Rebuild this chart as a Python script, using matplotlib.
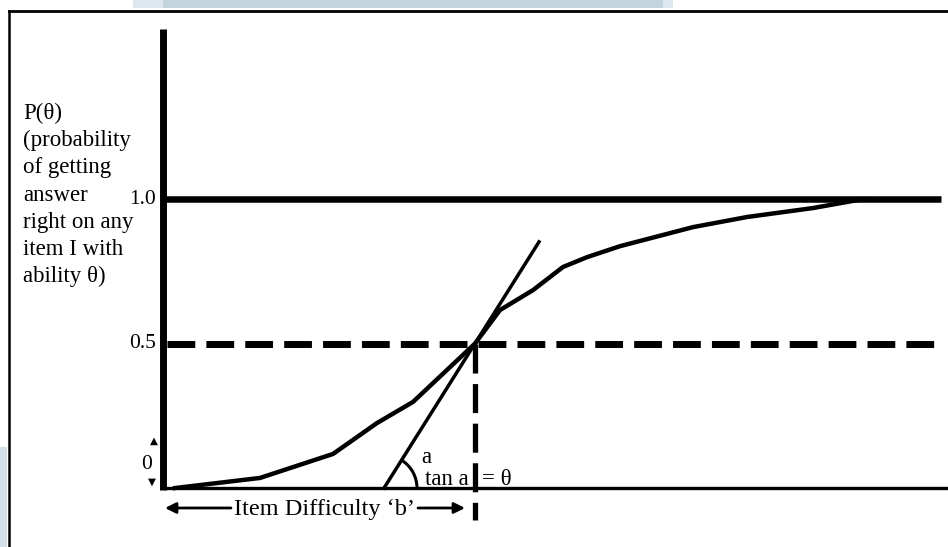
import matplotlib
matplotlib.use("Agg")
import matplotlib.pyplot as plt
import matplotlib.transforms as mtransforms
from matplotlib.lines import Line2D
from matplotlib.patches import Arc, Rectangle
import numpy as np

# item characteristic curve (theta in ability units, b at 0)
theta = [-3.00, -2.15, -1.42, -0.98, -0.62, 0.00, 0.25, 0.58, 0.88, 1.12, 1.45, 2.18, 2.72, 3.38, 3.88]
prob = [0.000, 0.035, 0.118, 0.225, 0.298, 0.500, 0.616, 0.685, 0.765, 0.799, 0.837, 0.903, 0.938, 0.969, 1.000]

# tangent at the inflection point (slope = discrimination a)
tangent_theta = [-0.91, 0.64]
tangent_p = [0.0, 0.852]

b_difficulty = 0.0
levels = [0.5, 1.0]
level_labels = ["0.5", "1.0"]
ylabel_lines = ["P(θ)", "(probability", "of getting", "answer",
                "right on any", "item I with", "ability θ)"]

axis_left = -3.12
axis_right = 4.66

serif = "Liberation Serif"

fig = plt.figure(figsize=(9.48, 5.47), dpi=100)
ax = fig.add_axes([0, 0, 1, 1])
ax.set_xlim(-4.75, 4.73)
ax.set_ylim(-0.204, 1.689)
ax.axis("off")

# pixel transform (origin top-left) for the page decoration
px = mtransforms.Affine2D().scale(0.01, -0.01).translate(0, 5.47) + fig.dpi_scale_trans

# light banner bits from the page behind the figure
fig.add_artist(Rectangle((133, 0), 30, 8, transform=px, color="#dde8ee", lw=0))
fig.add_artist(Rectangle((163, 0), 500, 8, transform=px, color="#c4d4dc", lw=0))
fig.add_artist(Rectangle((663, 0), 10, 8, transform=px, color="#dde8ee", lw=0))
fig.add_artist(Rectangle((0, 447), 7, 100, transform=px, color="#d3e0e7", lw=0))

# outer frame
fig.add_artist(Line2D([9, 960], [11, 11], transform=px, color="black", lw=2))
fig.add_artist(Line2D([9, 9], [11, 560], transform=px, color="black", lw=1.8))

# axes
ax.plot([axis_left, axis_left], [-0.007, 1.588], color="black", lw=5, solid_capstyle="butt")
ax.plot([axis_left, 4.8], [0, 0], color="black", lw=2.4, solid_capstyle="butt")

# reference lines
ax.plot([axis_left, axis_right], [levels[1], levels[1]], color="black", lw=4.7,
        solid_capstyle="butt")
ax.plot([-3.08, 4.62], [levels[0], levels[0]], color="black", lw=5,
        linestyle=(0, (4.0, 1.6)))
ax.plot([b_difficulty, b_difficulty], [levels[0], -0.111], color="black", lw=3.8,
        linestyle=(0, (5.5, 2)))

# curve and tangent
ax.plot(theta, prob, color="black", lw=3.2)
ax.plot(tangent_theta, tangent_p, color="black", lw=2.5)

ang = np.degrees(np.arctan2(tangent_p[1] - tangent_p[0], tangent_theta[1] - tangent_theta[0]))
ax.add_patch(Arc((tangent_theta[0], 0), 0.66, 0.228, theta1=0, theta2=ang,
                 color="black", lw=2.2))

# tick labels
for lvl, lab in zip(levels, level_labels):
    ax.text(-3.19, lvl, lab, ha="right", va="center", fontsize=15.5, family=serif)
ax.text(-3.28, 0.08, "0", ha="center", va="center", fontsize=15.5, family=serif)
ax.text(-3.21, 0.163, "▲", ha="center", va="center", fontsize=7.5, family="DejaVu Sans")
ax.text(-3.23, 0.021, "▼", ha="center", va="center", fontsize=7.5, family="DejaVu Sans")

# y label, one line at a time
for i, line in enumerate(ylabel_lines):
    ax.text(23, 119 + 27.2 * i, line, transform=px, ha="left", va="baseline",
            fontsize=16.5, family=serif)

# angle and difficulty annotations
ax.text(-0.54, 0.0865, "a", ha="left", va="baseline", fontsize=16.5, family=serif)
ax.text(-0.50, 0.0104, "tan a", ha="left", va="baseline", fontsize=16.5, family=serif)
ax.text(0.07, 0.0104, "= θ", ha="left", va="baseline", fontsize=16.5, family=serif)

ax.text(-1.5, -0.093, "Item Difficulty ‘b’", ha="center", va="baseline",
        fontsize=17.5, family=serif)
arrow = dict(arrowstyle="-|>", lw=2, color="black", mutation_scale=16, shrinkA=0, shrinkB=0)
ax.annotate("", xy=(-3.10, -0.069), xytext=(-2.44, -0.069), arrowprops=arrow)
ax.annotate("", xy=(-0.10, -0.069), xytext=(-0.57, -0.069), arrowprops=arrow)

fig.savefig("out.png", dpi=100)
